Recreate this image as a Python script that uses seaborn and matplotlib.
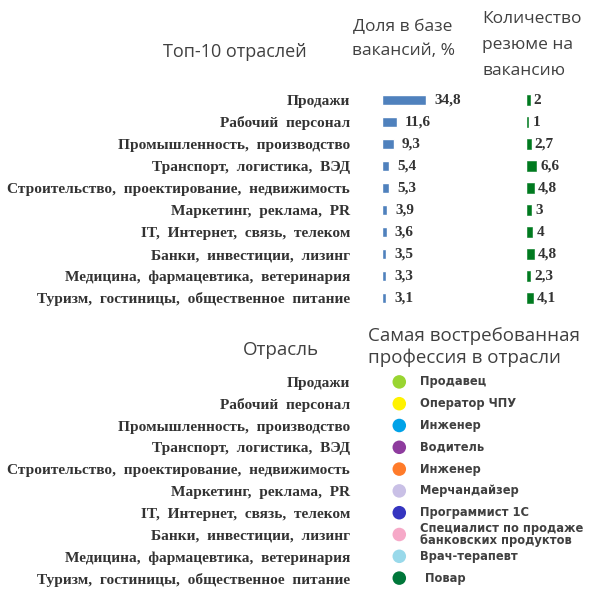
import numpy as np
import pandas as pd
import seaborn as sns
import matplotlib.pyplot as plt

industries = [
    "Продажи",
    "Рабочий  персонал",
    "Промышленность,  производство",
    "Транспорт,  логистика,  ВЭД",
    "Строительство,  проектирование,  недвижимость",
    "Маркетинг,  реклама,  PR",
    "IT,  Интернет,  связь,  телеком",
    "Банки,  инвестиции,  лизинг",
    "Медицина,  фармацевтика,  ветеринария",
    "Туризм,  гостиницы,  общественное  питание",
]
vacancy_share = [34.8, 11.6, 9.3, 5.4, 5.3, 3.9, 3.6, 3.5, 3.3, 3.1]
resumes_per_vacancy = [2, 1, 2.7, 6.6, 4.8, 3, 4, 4.8, 2.3, 4.1]
professions = [
    "Продавец",
    "Оператор ЧПУ",
    "Инженер",
    "Водитель",
    "Инженер",
    "Мерчандайзер",
    "Программист 1С",
    "Специалист по продаже\nбанковских продуктов",
    "Врач-терапевт",
    "Повар",
]
dot_colors = ["#99d531", "#fff200", "#00a2e8", "#8e3c9e", "#ff7b2a",
              "#c9c0e6", "#3535c0", "#f6a9c8", "#99d9ea", "#00773a"]

df = pd.DataFrame({
    "industry": industries,
    "share": vacancy_share,
    "resumes": resumes_per_vacancy,
    "profession": professions,
})

sns.set_style("white")
plt.rcParams["font.family"] = ["DejaVu Sans"]

W = H = 598
fig = plt.figure(figsize=(W / 100, H / 100), dpi=100)


def px_axes(left, top, width, height):
    return fig.add_axes([left / W, 1 - (top + height) / H, width / W, height / H])


label_font = dict(family="Liberation Serif", fontsize=11.1, color="#333333", fontweight="bold")
value_font = dict(family="Liberation Serif", fontsize=11, color="#333333", fontweight="bold")
head_font = dict(family="Open Sans", color="#404040")
prof_font = dict(family="DejaVu Sans", fontsize=8.3, color="#404040", fontweight="bold")

# top block: share of vacancies
ax1 = px_axes(382, 89, 90, 220)
sns.barplot(data=df, x="share", y="industry", orient="h", color="#4f81bd",
            width=0.42, saturation=1, ax=ax1)
ax1.set_xlim(0, 71)
for i, v in enumerate(vacancy_share):
    ax1.text(v + 6.5, i, f"{v:g}".replace(".", ","), va="center", ha="left", **value_font)

# resumes per vacancy
ax2 = px_axes(527, 89, 60, 220)
sns.barplot(data=df, x="resumes", y="industry", orient="h", color="#007a1f",
            width=0.42, saturation=1, edgecolor="#007a1f", linewidth=0.4, ax=ax2)
ax2.set_xlim(0, 44)
for i, v in enumerate(resumes_per_vacancy):
    ax2.text(v + 3, i, f"{v:g}".replace(".", ","), va="center", ha="left", **value_font)

# bottom block: most demanded profession
ax3 = px_axes(382, 371, 216, 218)
sns.scatterplot(x=[0.08] * 10, y=industries, hue=industries, palette=dot_colors,
                s=95, edgecolor="none", legend=False, ax=ax3)
ax3.set_xlim(0, 1)
ax3.set_ylim(9.5, -0.5)
for i, p in enumerate(professions):
    ax3.text(0.175 if i < 9 else 0.2, i, p, va="center", ha="left",
             linespacing=0.95, **prof_font)

for ax in (ax1, ax2, ax3):
    ax.set_xlabel("")
    ax.set_ylabel("")
    ax.set_xticks([])
    sns.despine(ax=ax, left=True, bottom=True)
    ax.tick_params(axis="y", length=0)
ax2.set_yticks([])
ax1.set_yticks(range(10))
ax1.set_yticklabels(industries, **label_font)
ax1.tick_params(axis="y", pad=23)
ax3.set_yticks(range(10))
ax3.set_yticklabels(industries, **label_font)
ax3.tick_params(axis="y", pad=23)

# headers
fig.text(235 / W, 1 - 52 / H, "Топ-10 отраслей", ha="center", va="center", fontsize=13, **head_font)
fig.text(403 / W, 1 - 39 / H, "Доля в базе\nвакансий, %", ha="center", va="center",
         fontsize=12.5, linespacing=1.7, **head_font)
fig.text(482 / W, 1 - 45 / H, "Количество\nрезюме на\nвакансию", ha="left", va="center",
         fontsize=12.5, linespacing=1.8, **head_font)
fig.text(281 / W, 1 - 350 / H, "Отрасль", ha="center", va="center", fontsize=13.5, **head_font)
fig.text(368 / W, 1 - 347 / H, "Самая востребованная\nпрофессия в отрасли", ha="left", va="center",
         fontsize=13.5, linespacing=1.2, **head_font)

fig.savefig("out.png", dpi=100)
